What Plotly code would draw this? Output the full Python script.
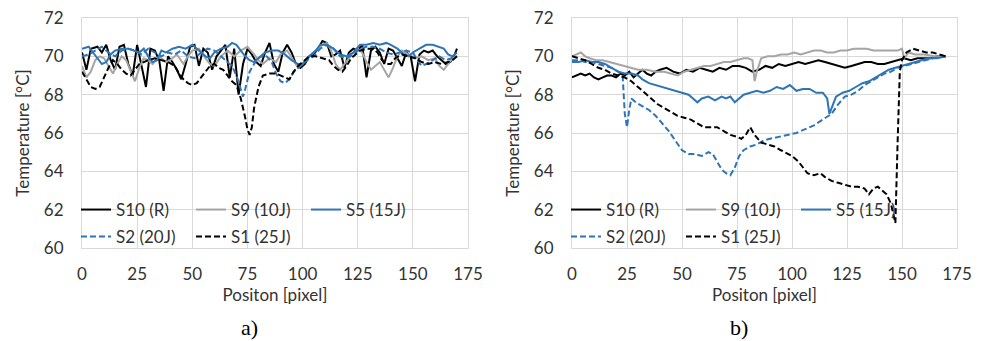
import plotly.graph_objects as go

# ---------------- data: panel a) ----------------
a_s10_x = [0, 2, 4, 7, 9, 11, 13, 15, 17, 19, 21, 23, 25, 27, 29, 31, 33, 35, 37, 39, 41, 43, 45, 47, 49, 51, 53, 55, 57, 59,
           61, 63, 65, 67, 69, 71, 73, 75, 77, 79, 81, 83, 85, 87, 89, 91, 93, 95, 97, 99, 101, 103, 105, 107, 109, 111, 113,
           115, 117, 119, 121, 123, 125, 127, 129, 131, 133, 135, 137, 139, 141, 143, 145, 147, 149, 151, 153, 155, 157, 159,
           161, 163, 165, 167, 169, 170]
a_s10_y = [70.2, 69.3, 70.4, 70.5, 70.2, 70.6, 69.8, 69.3, 70.5, 70.6, 69.6, 69.0, 70.6, 69.4, 68.4, 70.4, 70.3, 69.8, 68.2,
           70.0, 69.7, 69.3, 68.8, 69.6, 70.5, 70.6, 69.5, 70.4, 70.2, 69.3, 70.0, 70.3, 70.6, 68.9, 70.4, 68.0, 69.6, 70.4,
           70.1, 69.7, 69.5, 70.2, 70.7, 69.6, 69.2, 70.2, 70.6, 70.2, 69.6, 69.4, 69.6, 70.0, 70.1, 70.4, 70.8, 70.7, 70.0,
           70.1, 70.3, 69.4, 70.2, 70.4, 70.3, 70.6, 68.9, 70.3, 70.5, 70.2, 69.6, 70.4, 70.3, 69.9, 69.5, 70.2, 70.0, 68.7,
           70.1, 70.3, 70.2, 70.3, 70.0, 69.8, 69.6, 69.7, 70.1, 70.4]

a_s9_x = [0, 2, 4, 6, 8, 10, 12, 14, 16, 18, 20, 22, 24, 26, 28, 30, 32, 35, 38, 40, 43, 46, 48, 50, 53, 56, 58, 60, 63, 66,
          69, 72, 75, 78, 80, 82, 85, 88, 90, 93, 96, 98, 100, 103, 106, 109, 111, 113, 115, 117, 119, 121, 123, 125, 127,
          129, 131, 133, 135, 137, 139, 141, 143, 145, 148, 151, 154, 157, 160, 162, 164, 166, 168, 170]
a_s9_y = [69.5, 68.9, 69.2, 69.8, 70.0, 69.9, 69.5, 69.1, 69.6, 70.0, 69.8, 69.2, 68.7, 69.4, 69.9, 69.8, 69.6, 70.0, 69.7,
          69.8, 70.1, 69.6, 70.0, 70.3, 70.4, 69.9, 69.6, 69.5, 70.0, 70.3, 70.0, 70.3, 70.5, 70.1, 69.8, 69.6, 69.9, 69.7,
          70.1, 70.3, 69.8, 69.4, 69.6, 70.0, 70.3, 70.6, 70.7, 70.3, 69.6, 69.3, 69.6, 69.9, 70.2, 70.4, 70.2, 69.7, 69.3,
          69.5, 69.7, 69.3, 68.9, 69.4, 70.0, 70.3, 70.1, 69.9, 70.0, 69.8, 69.9, 69.5, 69.3, 69.6, 69.9, 70.0]

a_s5_x = [0, 3, 5, 7, 9, 11, 13, 15, 18, 21, 24, 26, 28, 30, 32, 34, 36, 38, 41, 44, 47, 50, 53, 56, 58, 60, 63, 66, 68, 70,
          72, 74, 76, 78, 80, 83, 86, 89, 92, 95, 98, 100, 103, 106, 108, 111, 114, 117, 120, 123, 126, 129, 132, 135, 138,
          140, 143, 146, 148, 150, 153, 156, 159, 162, 164, 166, 168, 170]
a_s5_y = [70.4, 70.5, 70.2, 69.9, 69.6, 69.7, 70.1, 70.3, 70.4, 70.4, 70.3, 70.2, 70.4, 70.0, 69.7, 69.8, 70.3, 70.2, 70.4,
          70.5, 70.4, 70.6, 70.3, 70.0, 69.9, 70.2, 70.4, 70.5, 70.7, 70.6, 70.3, 70.0, 69.8, 69.7, 69.9, 70.2, 70.3, 70.3,
          70.1, 69.8, 69.6, 69.6, 70.0, 70.3, 70.6, 70.6, 70.4, 70.1, 70.0, 70.2, 70.6, 70.6, 70.7, 70.6, 70.7, 70.6, 70.4,
          70.1, 70.0, 70.2, 70.4, 70.6, 70.6, 70.5, 70.4, 70.1, 70.0, 70.2]

a_s2_x = [0, 3, 6, 9, 12, 15, 18, 21, 24, 27, 30, 33, 36, 39, 42, 45, 48, 51, 54, 57, 60, 63, 66, 68, 70, 72, 73, 74, 76, 78,
          80, 83, 86, 88, 90, 92, 94, 96, 99, 102, 105, 108, 111, 114, 117, 120, 123, 126, 129, 132, 135, 138, 141, 144, 147,
          150, 152, 154, 156, 159, 162, 165, 168, 170]
a_s2_y = [70.0, 70.1, 70.3, 70.5, 70.2, 70.0, 70.3, 70.4, 70.3, 70.1, 70.4, 70.2, 70.0, 70.2, 70.1, 70.3, 70.0, 69.9, 70.2,
          70.4, 70.3, 70.0, 69.7, 69.5, 69.0, 68.2, 67.9, 68.3, 69.2, 69.6, 69.9, 70.1, 69.7, 69.1, 68.7, 68.6, 68.8, 69.2,
          69.5, 69.8, 70.0, 70.4, 70.6, 70.4, 70.0, 69.9, 70.1, 70.4, 70.5, 70.5, 70.4, 70.2, 70.1, 70.2, 70.3, 70.2, 69.8,
          69.5, 69.6, 69.8, 70.0, 69.8, 69.9, 70.0]

a_s1_x = [0, 2, 4, 6, 8, 10, 12, 14, 16, 18, 20, 22, 24, 26, 28, 30, 33, 36, 39, 42, 44, 46, 48, 50, 52, 54, 56, 58, 60, 62,
          64, 66, 68, 70, 72, 74, 75, 76, 77, 78, 80, 82, 85, 88, 90, 92, 94, 96, 98, 100, 103, 106, 109, 112, 114, 116, 118,
          120, 122, 124, 126, 129, 132, 134, 136, 138, 140, 142, 145, 148, 151, 154, 157, 160, 163, 166, 168, 170]
a_s1_y = [69.2, 68.8, 68.4, 68.3, 68.4, 68.9, 69.4, 69.8, 69.6, 69.3, 69.1, 69.0, 69.3, 69.6, 69.7, 69.8, 69.9, 69.8, 69.7,
          69.5, 69.1, 68.8, 68.6, 68.5, 68.6, 68.9, 69.2, 69.5, 69.6, 69.4, 69.3, 69.0, 68.7, 68.5, 67.8, 66.8, 66.2, 65.9,
          66.3, 67.3, 68.4, 69.0, 69.1, 69.1, 69.0, 68.9, 68.8, 69.2, 69.5, 69.7, 70.0, 70.0, 69.9, 69.8, 69.5, 69.3, 69.2,
          69.5, 69.9, 70.1, 70.3, 70.4, 70.4, 70.2, 69.8, 69.6, 69.6, 69.9, 70.1, 70.0, 69.9, 69.7, 69.6, 69.7, 69.6, 69.7,
          69.8, 70.0]

# ---------------- data: panel b) ----------------
b_s10_x = [0, 2, 4, 6, 8, 10, 12, 14, 16, 18, 20, 22, 24, 26, 28, 30, 32, 34, 36, 38, 40, 43, 46, 49, 52, 55, 58, 61, 64, 67,
           70, 73, 76, 79, 82, 85, 88, 91, 94, 97, 100, 103, 106, 109, 112, 115, 118, 121, 124, 127, 130, 133, 136, 139, 142,
           145, 148, 151, 154, 157, 160, 163, 166, 170]
b_s10_y = [68.9, 69.0, 69.1, 69.0, 69.1, 68.9, 68.8, 68.9, 69.0, 69.0, 68.9, 69.1, 69.0, 69.2, 68.9, 69.1, 69.3, 69.1, 69.0,
           69.2, 69.3, 69.4, 69.2, 69.1, 69.3, 69.2, 69.4, 69.3, 69.2, 69.4, 69.3, 69.5, 69.5, 69.4, 69.2, 69.3, 69.5, 69.4,
           69.6, 69.5, 69.6, 69.7, 69.6, 69.7, 69.8, 69.7, 69.6, 69.5, 69.4, 69.5, 69.6, 69.7, 69.7, 69.6, 69.6, 69.7, 69.8,
           69.9, 69.8, 69.9, 69.9, 69.9, 70.0, 70.0]

b_s9_x = [0, 2, 4, 6, 8, 11, 14, 17, 20, 23, 26, 30, 34, 38, 42, 45, 48, 51, 54, 57, 60, 63, 66, 69, 72, 75, 78, 80, 82, 83,
          84, 86, 89, 92, 95, 98, 101, 104, 107, 110, 113, 116, 119, 122, 125, 128, 131, 134, 137, 140, 143, 146, 148, 150,
          151, 153, 156, 160, 165, 170]
b_s9_y = [70.0, 70.1, 70.2, 70.0, 69.9, 69.8, 69.8, 69.7, 69.6, 69.5, 69.4, 69.3, 69.3, 69.2, 69.2, 69.1, 69.0, 69.2, 69.3,
          69.4, 69.5, 69.5, 69.6, 69.7, 69.7, 69.8, 69.9, 69.9, 69.8, 68.7, 69.2, 69.9, 70.0, 70.0, 70.1, 70.1, 70.2, 70.1,
          70.2, 70.3, 70.3, 70.2, 70.2, 70.3, 70.3, 70.4, 70.4, 70.4, 70.3, 70.3, 70.3, 70.3, 70.3, 70.4, 69.9, 70.2, 70.1,
          70.1, 70.0, 70.0]

b_s5_x = [0, 3, 6, 9, 12, 15, 18, 21, 24, 27, 30, 32, 35, 38, 41, 44, 47, 50, 53, 55, 57, 59, 62, 65, 68, 70, 72, 74, 76, 78,
          81, 84, 87, 90, 93, 96, 99, 102, 105, 108, 111, 114, 116, 117, 118, 120, 123, 126, 129, 132, 135, 138, 141, 144,
          147, 150, 153, 156, 159, 162, 166, 170]
b_s5_y = [69.7, 69.7, 69.8, 69.7, 69.7, 69.6, 69.4, 69.2, 69.1, 69.1, 69.0, 68.8, 68.6, 68.5, 68.4, 68.3, 68.2, 68.1, 68.0,
          67.8, 67.6, 67.8, 67.9, 67.7, 67.9, 67.8, 67.9, 67.6, 67.8, 68.0, 68.1, 68.2, 68.1, 68.2, 68.4, 68.3, 68.5, 68.2,
          68.3, 68.3, 68.1, 68.1, 67.8, 67.0, 67.3, 67.9, 68.1, 68.2, 68.4, 68.6, 68.7, 68.9, 69.1, 69.3, 69.4, 69.5, 69.6,
          69.7, 69.8, 69.9, 69.9, 70.0]

b_s2_x = [0, 3, 6, 9, 12, 15, 18, 21, 23, 24, 25, 26, 27, 29, 32, 35, 38, 41, 44, 47, 50, 53, 56, 59, 62, 64, 66, 68, 70, 72,
          74, 76, 78, 81, 84, 87, 90, 94, 98, 102, 106, 110, 114, 118, 121, 124, 127, 130, 133, 136, 139, 142, 145, 148, 151,
          154, 157, 160, 164, 170]
b_s2_y = [69.8, 69.8, 69.7, 69.7, 69.6, 69.5, 69.4, 69.2, 69.0, 67.0, 66.3, 67.2, 67.8, 67.6, 67.4, 67.2, 66.9, 66.5, 66.1,
          65.6, 65.1, 64.9, 64.9, 64.8, 65.0, 64.9, 64.5, 64.1, 63.9, 63.8, 64.2, 64.8, 65.1, 65.3, 65.4, 65.6, 65.7, 65.8,
          65.9, 66.0, 66.2, 66.4, 66.7, 67.0, 67.5, 67.9, 68.0, 68.2, 68.5, 68.7, 68.9, 69.1, 69.2, 69.4, 69.5, 69.6, 69.7,
          69.8, 69.9, 70.0]

b_s1_x = [0, 3, 6, 9, 12, 15, 18, 21, 24, 27, 30, 33, 36, 39, 42, 45, 48, 51, 54, 57, 60, 63, 66, 69, 72, 75, 77, 79, 81, 83,
          86, 89, 92, 95, 98, 100, 103, 105, 107, 110, 113, 115, 118, 121, 124, 127, 130, 133, 135, 137, 139, 141, 143, 145,
          146, 147, 148, 149, 150, 152, 155, 158, 161, 164, 167, 170]
b_s1_y = [70.0, 69.9, 69.8, 69.6, 69.4, 69.3, 69.1, 69.0, 68.9, 68.7, 68.4, 68.1, 67.8, 67.5, 67.3, 67.1, 66.9, 66.8, 66.7,
          66.5, 66.3, 66.3, 66.3, 66.1, 65.9, 65.8, 65.7, 65.9, 66.3, 65.9, 65.5, 65.4, 65.3, 65.1, 64.9, 64.8, 64.5, 64.2,
          63.9, 63.8, 63.9, 63.7, 63.5, 63.4, 63.3, 63.2, 63.2, 63.1, 62.8, 63.1, 63.2, 63.0, 62.8, 62.3, 61.8, 61.3, 65.5,
          69.2, 69.8, 70.2, 70.4, 70.3, 70.2, 70.2, 70.1, 70.0]

series_names = ["S10 (R)", "S9 (10J)", "S5 (15J)", "S2 (20J)", "S1 (25J)"]
x_ticks = [0, 25, 50, 75, 100, 125, 150, 175]
y_ticks = [60, 62, 64, 66, 68, 70, 72]
panel_labels = ["a)", "b)"]

# ---------------- styles ----------------
BLACK = "#000000"
GREY = "#a5a5a5"
BLUE = "#2e75b6"
DASH = "6px,3px"
styles = [
    dict(color=BLACK, dash="solid"),
    dict(color=GREY, dash="solid"),
    dict(color=BLUE, dash="solid"),
    dict(color=BLUE, dash=DASH),
    dict(color=BLACK, dash=DASH),
]
FONT = "Lato, 'Open Sans', sans-serif"
TEXT = "#333333"
GRID = "#d9d9d9"

panels = [
    ("x", "y", [(a_s10_x, a_s10_y), (a_s9_x, a_s9_y), (a_s5_x, a_s5_y), (a_s2_x, a_s2_y), (a_s1_x, a_s1_y)],
     ["legend", "legend2"]),
    ("x2", "y2", [(b_s10_x, b_s10_y), (b_s9_x, b_s9_y), (b_s5_x, b_s5_y), (b_s2_x, b_s2_y), (b_s1_x, b_s1_y)],
     ["legend3", "legend4"]),
]

fig = go.Figure()
for xa, ya, data, legs in panels:
    for i, ((xs, ys), name, st) in enumerate(zip(data, series_names, styles)):
        fig.add_trace(go.Scatter(
            x=xs, y=ys, name=name, mode="lines",
            xaxis=xa, yaxis=ya,
            legend=legs[0] if i < 3 else legs[1],
            line=dict(color=st["color"], dash=st["dash"], width=2),
        ))

# plot area: left panel 82..468 px, right panel 572..957 px, 18..248 px vertically
L, R, T, B = 82, 26, 18, 93
W = 983 - L - R
dom_a = [0.0, (468 - L) / W]
dom_b = [(572 - L) / W, 1.0]

axis_common = dict(
    showgrid=True, gridcolor=GRID, gridwidth=1,
    showline=True, linecolor=GRID, linewidth=1, mirror=True,
    zeroline=False, ticks="",
    tickfont=dict(family=FONT, size=17, color=TEXT),
)
xcommon = dict(axis_common, range=[0, 175], tickvals=x_ticks, ticklabelstandoff=11,
               title=dict(text="Positon [pixel]", font=dict(family=FONT, size=17, color=TEXT), standoff=0))
ycommon = dict(axis_common, range=[60, 72], tickvals=y_ticks, ticklabelstandoff=14,
               title=dict(text="Temperature [°C]", font=dict(family=FONT, size=17, color=TEXT), standoff=9))

legend_common = dict(
    orientation="h", bgcolor="rgba(0,0,0,0)", borderwidth=0,
    font=dict(family=FONT, size=17, color=TEXT),
    entrywidth=70, itemwidth=30, tracegroupgap=0,
    xanchor="left", yanchor="middle", itemclick=False, itemdoubleclick=False,
)
row1_y = (248 - 210) / 230
row2_y = (248 - 237) / 230
la_x = dom_a[0] - 6 / W
lb_x = dom_b[0] - 6 / W

fig.update_layout(
    width=983, height=341,
    margin=dict(l=L, r=R, t=T, b=B, autoexpand=False),
    paper_bgcolor="white", plot_bgcolor="white",
    font=dict(family=FONT, color=TEXT),
    xaxis=dict(xcommon, domain=dom_a, anchor="y"),
    yaxis=dict(ycommon, domain=[0, 1], anchor="x"),
    xaxis2=dict(xcommon, domain=dom_b, anchor="y2"),
    yaxis2=dict(ycommon, domain=[0, 1], anchor="x2"),
    legend=dict(legend_common, x=la_x, y=row1_y),
    legend2=dict(legend_common, x=la_x, y=row2_y),
    legend3=dict(legend_common, x=lb_x, y=row1_y),
    legend4=dict(legend_common, x=lb_x, y=row2_y),
    showlegend=True,
)

for xa, label in zip(["x", "x2"], panel_labels):
    fig.add_annotation(
        text=label, xref=f"{xa} domain", yref="paper",
        x=0.435, y=(248 - 327) / 230, xanchor="center", yanchor="middle",
        showarrow=False, font=dict(family="'Liberation Serif', 'Times New Roman', serif", size=22, color="#000000"),
    )

fig.write_html("out.html")
